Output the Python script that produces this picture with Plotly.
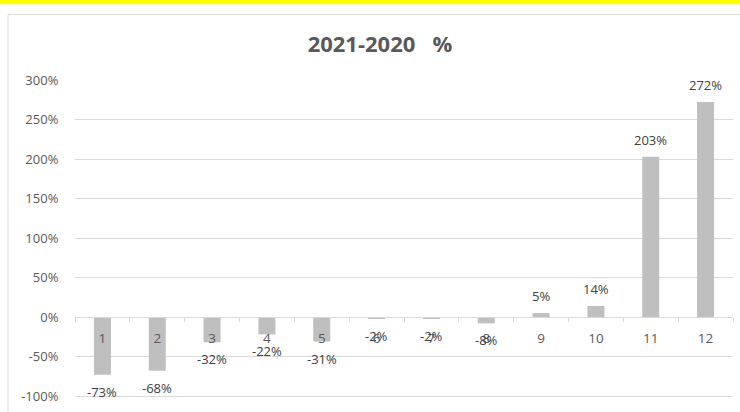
import plotly.graph_objects as go

# Monthly change 2021 vs 2020, in percent
months = ["1", "2", "3", "4", "5", "6", "7", "8", "9", "10", "11", "12"]
change_pct = [-73, -68, -32, -22, -31, -2, -2, -8, 5, 14, 203, 272]
y_ticks = [-100, -50, 0, 50, 100, 150, 200, 250, 300]
y_tick_text = [f"{v}%" for v in y_ticks]

FONT = "Open Sans, Lato, Arial, sans-serif"
TEXT = "#595959"
GRID = "#d9d9d9"
BAR = "#bfbfbf"

W, H = 740, 412
M_L, M_R, M_T, M_B = 75, 7, 79, 11
PLOT_H = H - M_T - M_B

fig = go.Figure(
    go.Bar(
        x=months,
        y=change_pct,
        marker=dict(color=BAR, line=dict(width=0)),
        width=0.31,
        hoverinfo="skip",
    )
)

# value labels just beyond each bar end (category axis -> positional index)
for i, v in enumerate(change_pct):
    fig.add_annotation(
        x=i, y=v, xref="x", yref="y",
        text=f"{v}%", showarrow=False,
        yshift=17 if v >= 0 else -17,
        yanchor="middle",
        font=dict(family=FONT, size=13, color="#404040"),
    )

# a little headroom past the outer ticks so both edge gridlines are drawn
ymin, ymax = -102.5, 301.25
zero_pos = (0 - ymin) / (ymax - ymin)


def paper_y(px):
    """Convert a pixel row (from the top) to paper y."""
    return (H - M_B - px) / PLOT_H


fig.update_layout(
    width=W, height=H,
    margin=dict(l=M_L, r=M_R, t=M_T, b=M_B),
    paper_bgcolor="white",
    plot_bgcolor="white",
    showlegend=False,
    title=dict(
        text="<b>2021-2020   %</b>",
        x=0.4635, xref="paper", xanchor="center",
        y=1 - 44.5 / H, yref="container", yanchor="middle",
        font=dict(family=FONT, size=22, color=TEXT),
    ),
    xaxis=dict(
        type="category",
        range=[-0.5, len(months) - 0.5],
        anchor="free", position=zero_pos,
        showline=True, linecolor=GRID, linewidth=1,
        showgrid=False,
        ticks="outside", tickson="boundaries", ticklen=4, tickcolor=GRID,
        ticklabelstandoff=9,
        tickfont=dict(family=FONT, size=13.5, color=TEXT),
    ),
    yaxis=dict(
        range=[ymin, ymax],
        tickvals=y_ticks, ticktext=y_tick_text,
        showgrid=True, gridcolor=GRID, gridwidth=1,
        zeroline=False, showline=False,
        ticks="outside", ticklen=13, tickcolor="rgba(0,0,0,0)",
        tickfont=dict(family=FONT, size=13, color=TEXT),
    ),
    shapes=[
        # chart frame
        dict(type="rect", xref="paper", yref="paper",
             x0=-67 / 658, x1=1.05, y0=-0.2, y1=paper_y(14),
             line=dict(color=GRID, width=1), fillcolor="rgba(0,0,0,0)",
             layer="below"),
        # yellow strip along the top
        dict(type="rect", xref="paper", yref="paper",
             x0=-0.2, x1=1.2, y0=paper_y(2.5), y1=paper_y(-2),
             line=dict(width=0), fillcolor="#ffff00", layer="below"),
    ],
)

fig.write_html("out.html")
